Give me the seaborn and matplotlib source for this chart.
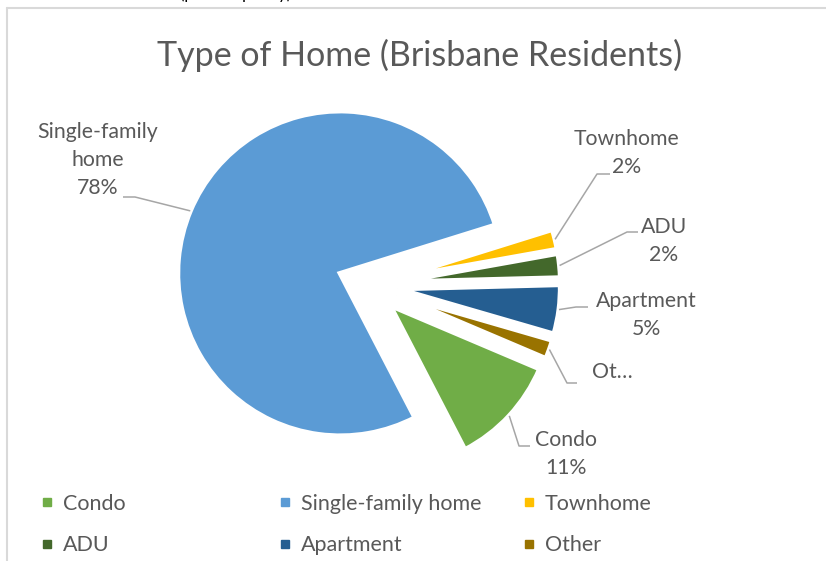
import numpy as np
import matplotlib
matplotlib.use("Agg")
import matplotlib.pyplot as plt
from matplotlib.lines import Line2D
import seaborn as sns

# data, in Excel's clockwise order
categories = ["Condo", "Single-family home", "Townhome", "ADU", "Apartment", "Other"]
shares = [11.0, 77.8, 2.0, 2.4, 4.9, 1.9]
slice_names = ["Condo", "Single-family\nhome", "Townhome", "ADU", "Apartment", "Ot…"]
show_pct = [True, True, True, True, True, False]
colors = ["#70AD47", "#5B9BD5", "#FFC000", "#43682B", "#255E91", "#997300"]

# layout in image pixels (y from the top)
W, H = 826, 561
CX, CY, R = 368, 285, 162.5
label_px = [(566, 454), (98, 160), (627, 153), (664, 241), (646, 315), (612, 372)]
leader_px = [[(530, 446), (519, 446)], [(123, 197), (135, 197)], [(610, 174), (597, 174)],
             [(638, 232), (627, 232)], [(588, 307), (576, 307)], [(577, 383), (567, 383)]]

TXT = "#595959"
GRID = "#D9D9D9"


def to_data(px, py):
    return (px - CX) / R, (CY - py) / R


sns.set_theme(style="white")
plt.rcParams["font.family"] = ["Lato", "DejaVu Sans"]

fig = plt.figure(figsize=(W / 100, H / 100), dpi=100)
ax = fig.add_axes([0, 0, 1, 1])

wedges, _ = ax.pie(shares, colors=colors, startangle=-23, counterclock=False,
                   explode=[0.185] * len(shares), radius=1,
                   wedgeprops=dict(edgecolor="white", linewidth=3.6))

x0, y1 = to_data(0, 0)
x1, y0 = to_data(W, H)
ax.set_xlim(x0, x1)
ax.set_ylim(y0, y1)
ax.axis("off")

# data labels with elbow leader lines
for w, name, pct, val, lab, lead in zip(wedges, slice_names, show_pct, shares, label_px, leader_px):
    mid = np.deg2rad((w.theta1 + w.theta2) / 2)
    ex = w.center[0] + w.r * np.cos(mid)
    ey = w.center[1] + w.r * np.sin(mid)
    pts = [to_data(*p) for p in lead] + [(ex, ey)]
    ax.plot([p[0] for p in pts], [p[1] for p in pts], color="#A6A6A6", lw=1.1,
            solid_capstyle="butt", zorder=1)
    text = f"{name}\n{val:.0f}%" if pct else name
    ax.text(*to_data(*lab), text, ha="center", va="center", fontsize=15.3,
            color=TXT, linespacing=1.52)

fig.text(420 / W, 1 - 55 / H, "Type of Home (Brisbane Residents)", ha="center",
         va="center", fontsize=24.5, color=TXT)

# legend: three columns of two rows, filled row by row
col_x = [40.6, 278.6, 522.6]
for c, cx in enumerate(col_x):
    idx = [c, c + 3]
    handles = [Line2D([], [], marker="s", ls="", markersize=5.5, color=colors[i]) for i in idx]
    fig.legend(handles, [categories[i] for i in idx], loc="center left",
               bbox_to_anchor=(cx / W, 1 - 524.5 / H), frameon=False, borderpad=0,
               borderaxespad=0, handlelength=0.6, handletextpad=0.42,
               labelspacing=1.01, fontsize=15.5, labelcolor=TXT)

# chart area border (top and left edges visible)
fig.add_artist(Line2D([7 / W, 1], [1 - 8 / H, 1 - 8 / H], transform=fig.transFigure,
                      color=GRID, lw=1.5))
fig.add_artist(Line2D([7 / W, 7 / W], [0, 1 - 8 / H], transform=fig.transFigure,
                      color=GRID, lw=1.5))
# text from the page above, cut off by the crop
fig.text(180 / W, 1 + 1 / H, "(please specify)", ha="left", va="baseline",
         fontsize=12, color="black")

fig.savefig("out.png", dpi=100)
